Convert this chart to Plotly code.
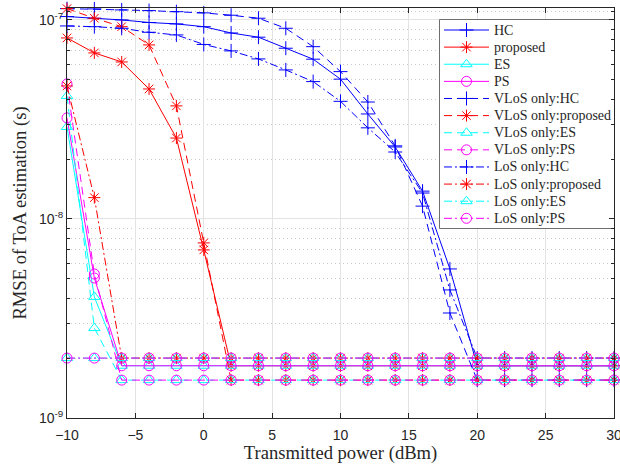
import plotly.graph_objects as go

# Transmitted power (dBm)
power_dbm = [-10, -8, -6, -4, -2, 0, 2, 4, 6, 8, 10, 12, 14, 16, 18, 20, 22, 24, 26, 28, 30]

# RMSE of ToA estimation (s), full scenario
hc = [1.04e-7, 1.02e-7, 1.00e-7, 9.71e-8, 9.55e-8, 9.25e-8, 8.60e-8, 8.19e-8, 7.21e-8, 6.35e-8,
      5.04e-8, 3.37e-8, 2.30e-8, 1.38e-8, 5.61e-9, 1.83e-9, 1.83e-9, 1.83e-9, 1.83e-9, 1.83e-9, 1.83e-9]
proposed = [8.12e-8, 6.83e-8, 6.15e-8, 4.50e-8, 2.55e-8, 6.99e-9, 1.83e-9, 1.83e-9, 1.83e-9, 1.83e-9,
            1.83e-9, 1.83e-9, 1.83e-9, 1.83e-9, 1.83e-9, 1.83e-9, 1.83e-9, 1.83e-9, 1.83e-9, 1.83e-9, 1.83e-9]
es = [2.90e-8, 4.06e-9, 1.83e-9, 1.83e-9, 1.83e-9, 1.83e-9, 1.83e-9, 1.83e-9, 1.83e-9, 1.83e-9,
      1.83e-9, 1.83e-9, 1.83e-9, 1.83e-9, 1.83e-9, 1.83e-9, 1.83e-9, 1.83e-9, 1.83e-9, 1.83e-9, 1.83e-9]
ps = [3.22e-8, 5.05e-9, 1.83e-9, 1.83e-9, 1.83e-9, 1.83e-9, 1.83e-9, 1.83e-9, 1.83e-9, 1.83e-9,
      1.83e-9, 1.83e-9, 1.83e-9, 1.83e-9, 1.83e-9, 1.83e-9, 1.83e-9, 1.83e-9, 1.83e-9, 1.83e-9, 1.83e-9]

# VLoS only
vlos_hc = [1.14e-7, 1.136e-7, 1.123e-7, 1.114e-7, 1.10e-7, 1.085e-7, 1.056e-7, 1.02e-7, 9.08e-8, 7.34e-8,
           5.50e-8, 3.87e-8, 2.33e-8, 1.16e-8, 3.37e-9, 1.55e-9, 1.55e-9, 1.55e-9, 1.55e-9, 1.55e-9, 1.55e-9]
vlos_proposed = [1.14e-7, 1.02e-7, 9.25e-8, 7.49e-8, 3.70e-8, 7.58e-9, 1.55e-9, 1.55e-9, 1.55e-9, 1.55e-9,
                 1.55e-9, 1.55e-9, 1.55e-9, 1.55e-9, 1.55e-9, 1.55e-9, 1.55e-9, 1.55e-9, 1.55e-9, 1.55e-9, 1.55e-9]
vlos_es = [4.15e-8, 2.83e-9, 1.55e-9, 1.55e-9, 1.55e-9, 1.55e-9, 1.55e-9, 1.55e-9, 1.55e-9, 1.55e-9,
           1.55e-9, 1.55e-9, 1.55e-9, 1.55e-9, 1.55e-9, 1.55e-9, 1.55e-9, 1.55e-9, 1.55e-9, 1.55e-9, 1.55e-9]
vlos_ps = [4.77e-8, 5.29e-9, 1.55e-9, 1.55e-9, 1.55e-9, 1.55e-9, 1.55e-9, 1.55e-9, 1.55e-9, 1.55e-9,
           1.55e-9, 1.55e-9, 1.55e-9, 1.55e-9, 1.55e-9, 1.55e-9, 1.55e-9, 1.55e-9, 1.55e-9, 1.55e-9, 1.55e-9]

# LoS only
los_hc = [9.33e-8, 9.25e-8, 9.08e-8, 8.67e-8, 8.41e-8, 7.53e-8, 6.99e-8, 6.37e-8, 5.61e-8, 4.90e-8,
          3.90e-8, 2.87e-8, 2.17e-8, 1.35e-8, 4.40e-9, 2.0e-9, 2.0e-9, 2.0e-9, 2.0e-9, 2.0e-9, 2.0e-9]
los_proposed = [4.66e-8, 1.28e-8, 2.0e-9, 2.0e-9, 2.0e-9, 2.0e-9, 2.0e-9, 2.0e-9, 2.0e-9, 2.0e-9,
                2.0e-9, 2.0e-9, 2.0e-9, 2.0e-9, 2.0e-9, 2.0e-9, 2.0e-9, 2.0e-9, 2.0e-9, 2.0e-9, 2.0e-9]
los_es = [2.0e-9, 2.0e-9, 2.0e-9, 2.0e-9, 2.0e-9, 2.0e-9, 2.0e-9, 2.0e-9, 2.0e-9, 2.0e-9,
          2.0e-9, 2.0e-9, 2.0e-9, 2.0e-9, 2.0e-9, 2.0e-9, 2.0e-9, 2.0e-9, 2.0e-9, 2.0e-9, 2.0e-9]
los_ps = [2.0e-9, 2.0e-9, 2.0e-9, 2.0e-9, 2.0e-9, 2.0e-9, 2.0e-9, 2.0e-9, 2.0e-9, 2.0e-9,
          2.0e-9, 2.0e-9, 2.0e-9, 2.0e-9, 2.0e-9, 2.0e-9, 2.0e-9, 2.0e-9, 2.0e-9, 2.0e-9, 2.0e-9]

y_tick_vals = [1e-9, 1e-8, 1e-7]
y_tick_text = ["10<sup>-9</sup>", "10<sup>-8</sup>", "10<sup>-7</sup>"]
x_tick_vals = [-10, -5, 0, 5, 10, 15, 20, 25, 30]

BLUE, RED, CYAN, MAGENTA = "#0000ff", "#ff0000", "#00ffff", "#ff00ff"
DASH = "8px,5px"
DASHDOT = "8px,3px,2px,3px"

series = [
    ("HC", hc, BLUE, "solid", "cross-thin-open"),
    ("proposed", proposed, RED, "solid", "asterisk-open"),
    ("ES", es, CYAN, "solid", "triangle-up-open"),
    ("PS", ps, MAGENTA, "solid", "circle-open"),
    ("VLoS only:HC", vlos_hc, BLUE, DASH, "cross-thin-open"),
    ("VLoS only:proposed", vlos_proposed, RED, DASH, "asterisk-open"),
    ("VLoS only:ES", vlos_es, CYAN, DASH, "triangle-up-open"),
    ("VLoS only:PS", vlos_ps, MAGENTA, DASH, "circle-open"),
    ("LoS only:HC", los_hc, BLUE, DASHDOT, "cross-thin-open"),
    ("LoS only:proposed", los_proposed, RED, DASHDOT, "asterisk-open"),
    ("LoS only:ES", los_es, CYAN, DASHDOT, "triangle-up-open"),
    ("LoS only:PS", los_ps, MAGENTA, DASHDOT, "circle-open"),
]
MARKER_SIZE = 10

fig = go.Figure()
for name, vals, color, dash, symbol in series:
    fig.add_trace(go.Scatter(
        x=power_dbm, y=vals, name=name, mode="lines+markers", showlegend=False,
        line=dict(color=color, width=1, dash=dash),
        marker=dict(symbol=symbol, size=MARKER_SIZE, color=color, line=dict(color=color, width=1)),
        cliponaxis=False,
    ))

# ---- legend box, drawn on a pixel-space overlay (x: 67..614, y: 418..8) ----
LEG_L, LEG_R, LEG_T, LEG_B = 439.5, 619.5, 19.5, 228.5
ROW0, ROW_STEP = 30.0, 17.12
SAMPLE_L, SAMPLE_R, TEXT_X = 444.0, 489.0, 493.0

fig.add_trace(go.Scatter(
    x=[LEG_L, LEG_R, LEG_R, LEG_L, LEG_L], y=[LEG_T, LEG_T, LEG_B, LEG_B, LEG_T],
    xaxis="x2", yaxis="y2", mode="lines", fill="toself", fillcolor="white",
    line=dict(color="#6e6e6e", width=1), showlegend=False, hoverinfo="skip", cliponaxis=False,
))
for i, (name, vals, color, dash, symbol) in enumerate(series):
    ry = ROW0 + ROW_STEP * i
    fig.add_trace(go.Scatter(
        x=[SAMPLE_L, SAMPLE_R], y=[ry, ry], xaxis="x2", yaxis="y2", mode="lines",
        line=dict(color=color, width=1, dash=dash), showlegend=False, hoverinfo="skip",
        cliponaxis=False,
    ))
    fig.add_trace(go.Scatter(
        x=[(SAMPLE_L + SAMPLE_R) / 2], y=[ry], xaxis="x2", yaxis="y2", mode="markers",
        marker=dict(symbol=symbol, size=MARKER_SIZE, color=color, line=dict(color=color, width=1)),
        showlegend=False, hoverinfo="skip", cliponaxis=False,
    ))
    fig.add_annotation(
        x=TEXT_X, y=ry, xref="x2", yref="y2", text=name, showarrow=False,
        xanchor="left", yanchor="middle", borderpad=0,
        font=dict(family="Liberation Serif, Times New Roman, serif", size=14, color="#262626"),
    )

AXIS_COLOR = "#262626"
TICK_FONT = dict(family="Liberation Sans, Arial, sans-serif", size=14, color="#262626")
TITLE_FONT = dict(family="Liberation Serif, Times New Roman, serif", size=18.6, color="#262626")

minor_y = [m * 10.0 ** e for e in (-9, -8) for m in range(2, 10)] + [1.1e-7]

fig.update_layout(
    template="none",
    width=620, height=464,
    margin=dict(l=67, r=6, t=8, b=46),
    paper_bgcolor="white", plot_bgcolor="white",
    showlegend=False,
    xaxis=dict(
        range=[-10, 30], tickmode="array", tickvals=x_tick_vals, automargin=False,
        ticks="inside", ticklen=5, tickcolor=AXIS_COLOR,
        showline=True, linecolor=AXIS_COLOR, linewidth=1, mirror="ticks",
        showgrid=True, gridcolor="#e3e3e3", gridwidth=1, zeroline=False,
        tickfont=TICK_FONT, ticklabeloverflow="allow", ticklabelstandoff=4,
        title=dict(text="Transmitted power (dBm)", font=TITLE_FONT, standoff=3),
    ),
    yaxis=dict(
        type="log", range=[-9, -6.94], tickmode="array", automargin=False,
        tickvals=y_tick_vals, ticktext=y_tick_text,
        ticks="inside", ticklen=5, tickcolor=AXIS_COLOR,
        showline=True, linecolor=AXIS_COLOR, linewidth=1, mirror="ticks",
        showgrid=True, gridcolor="#e3e3e3", gridwidth=1, zeroline=False,
        tickfont=TICK_FONT, ticklabeloverflow="allow",
        minor=dict(tickmode="array", tickvals=minor_y, ticks="inside", ticklen=3,
                   tickcolor=AXIS_COLOR, showgrid=True, gridcolor="#c8c8c8",
                   griddash="1px,3px", gridwidth=1),
        title=dict(text="RMSE of ToA estimation (s)", font=TITLE_FONT, standoff=7),
    ),
    xaxis2=dict(overlaying="x", range=[67, 614], visible=False, fixedrange=True),
    yaxis2=dict(overlaying="y", range=[418, 8], visible=False, fixedrange=True),
)

fig.write_html("out.html")
